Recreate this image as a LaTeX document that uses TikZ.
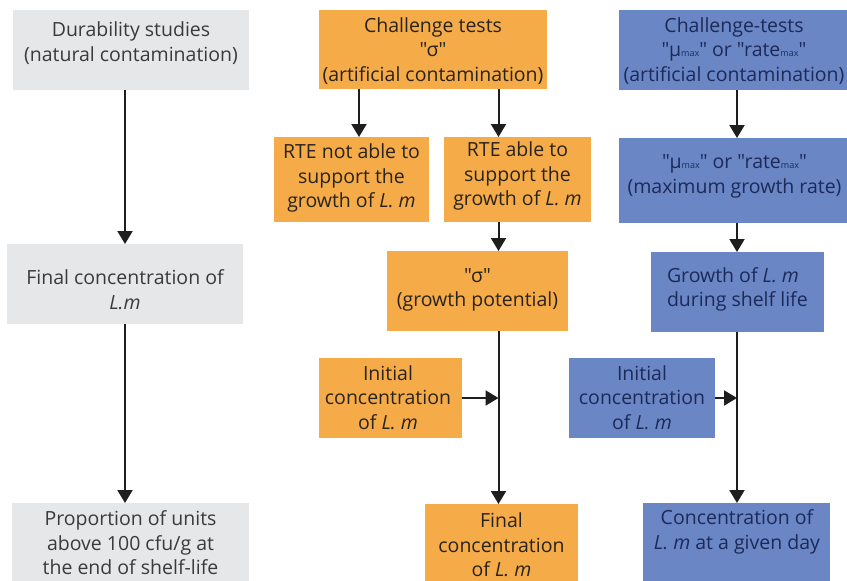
\documentclass[tikz,border=0pt]{standalone}
\usepackage{fontspec}
\setmainfont{Open Sans}[Ligatures=TeXOff]
\usetikzlibrary{arrows.meta}
\definecolor{grayfill}{RGB}{230,231,232}
\definecolor{orangefill}{RGB}{245,171,72}
\definecolor{bluefill}{RGB}{106,134,197}
\definecolor{graytext}{RGB}{58,58,58}
\definecolor{orangetext}{RGB}{40,35,30}
\definecolor{bluetext}{RGB}{28,42,90}
\definecolor{arrowcol}{RGB}{30,30,30}
\newcommand{\mysub}[1]{{\fontsize{9}{9}\selectfont #1}}
\begin{document}
\begin{tikzpicture}[x=1pt,y=-1pt,
  box/.style={draw=none, inner sep=0pt, outer sep=0pt},
  gbox/.style={box, fill=grayfill},
  obox/.style={box, fill=orangefill},
  bbox/.style={box, fill=bluefill},
  txt/.style={inner sep=0pt, outer sep=0pt, align=center, font=\fontsize{19.5}{24.5}\selectfont},
  gtxt/.style={txt, text=graytext},
  otxt/.style={txt, text=orangetext},
  btxt/.style={txt, text=bluetext},
  arr/.style={draw=arrowcol, line width=2pt, -{Triangle[length=13pt,width=15pt]}}]
\clip (0,0) rectangle (847,581);
\fill[white] (0,0) rectangle (847,581);

% boxes
\node[gbox, minimum width=236.5pt, minimum height=80pt] (g1) at (130.75,50) {};
\node[gbox, minimum width=236pt, minimum height=80pt] (g2) at (125,284) {};
\node[gbox, minimum width=237pt, minimum height=84pt] (g3) at (130.5,545) {};
\node[obox, minimum width=228pt, minimum height=79pt] (o1) at (433,49.5) {};
\node[obox, minimum width=155pt, minimum height=85pt] (oA) at (351.5,179.5) {};
\node[obox, minimum width=147pt, minimum height=85pt] (oB) at (517.5,179.5) {};
\node[obox, minimum width=181pt, minimum height=80pt] (o2) at (477.5,291) {};
\node[obox, minimum width=143pt, minimum height=80pt] (o3) at (390.5,398) {};
\node[obox, minimum width=153pt, minimum height=84pt] (o4) at (501.5,546) {};
\node[bbox, minimum width=232pt, minimum height=80pt] (b1) at (735,50) {};
\node[bbox, minimum width=232pt, minimum height=85pt] (b2) at (735,180.5) {};
\node[bbox, minimum width=173pt, minimum height=80pt] (b3) at (737.5,292) {};
\node[bbox, minimum width=146pt, minimum height=80pt] (b4) at (642,398) {};
\node[bbox, minimum width=187pt, minimum height=84pt] (b5) at (736.5,545) {};

% texts
\node[gtxt] (g1t) at (131,43) {Durability studies\\(natural contamination)};
\node[gtxt] (g2t) at (125,289.5) {Final concentration of\\\textit{L.m}};
\node[gtxt] (g3t) at (130.5,543) {Proportion of units\\above 100 cfu/g at\\the end of shelf-life};
\node[otxt] (o1t) at (433,51) {Challenge tests\\"σ"\\(artificial contamination)};
\node[otxt] (oAt) at (351.5,178) {RTE not able to\\support the\\growth of \textit{L. m}};
\node[otxt] (oBt) at (517.5,176) {RTE able to\\support the\\growth of \textit{L. m}};
\node[otxt] (o2t) at (477.5,290) {"σ"\\(growth potential)};
\node[otxt] (o3t) at (388,397.5) {Initial\\concentration\\of \textit{L. m}};
\node[otxt] (o4t) at (501.5,545) {Final\\concentration\\of \textit{L. m}};
\node[btxt] (b1t) at (734,51) {Challenge-tests\\"μ\mysub{max}" or "rate\mysub{max}"\\(artificial contamination)};
\node[btxt] (b2t) at (734.5,176.5) {"μ\mysub{max}" or "rate\mysub{max}"\\(maximum growth rate)};
\node[btxt, align=left, anchor=west] (b3t) at (667,289.5) {Growth of \textit{L. m}\\during shelf life};
\node[btxt] (b4t) at (642,397.5) {Initial\\concentration\\of \textit{L. m}};
\node[btxt] (b5t) at (737,532) {Concentration of\\\textit{L. m} at a given day};

% column coordinates
\coordinate (ocol) at (498.5,0);
\coordinate (bcol) at (737,0);

% arrows
\draw[arr] (g2.north |- g1.south) -- (g2.north);
\draw[arr] (g2.south) -- (g2.south |- g3.north);
\draw[arr] ([xshift=7.5pt]oA.north |- o1.south) -- ([xshift=7.5pt]oA.north);
\draw[arr] (ocol |- o1.south) -- (ocol |- oB.north);
\draw[arr] (ocol |- oB.south) -- (ocol |- o2.north);
\draw[arr] (ocol |- o2.south) -- (ocol |- o4.north);
\draw[arr] (o3.east) -- (ocol |- o3.east);
\draw[arr] (bcol |- b1.south) -- (bcol |- b2.north);
\draw[arr] (bcol |- b2.south) -- (bcol |- b3.north);
\draw[arr] (bcol |- b3.south) -- (bcol |- b5.north);
\draw[arr] (b4.east) -- (bcol |- b4.east);
\end{tikzpicture}
\end{document}
